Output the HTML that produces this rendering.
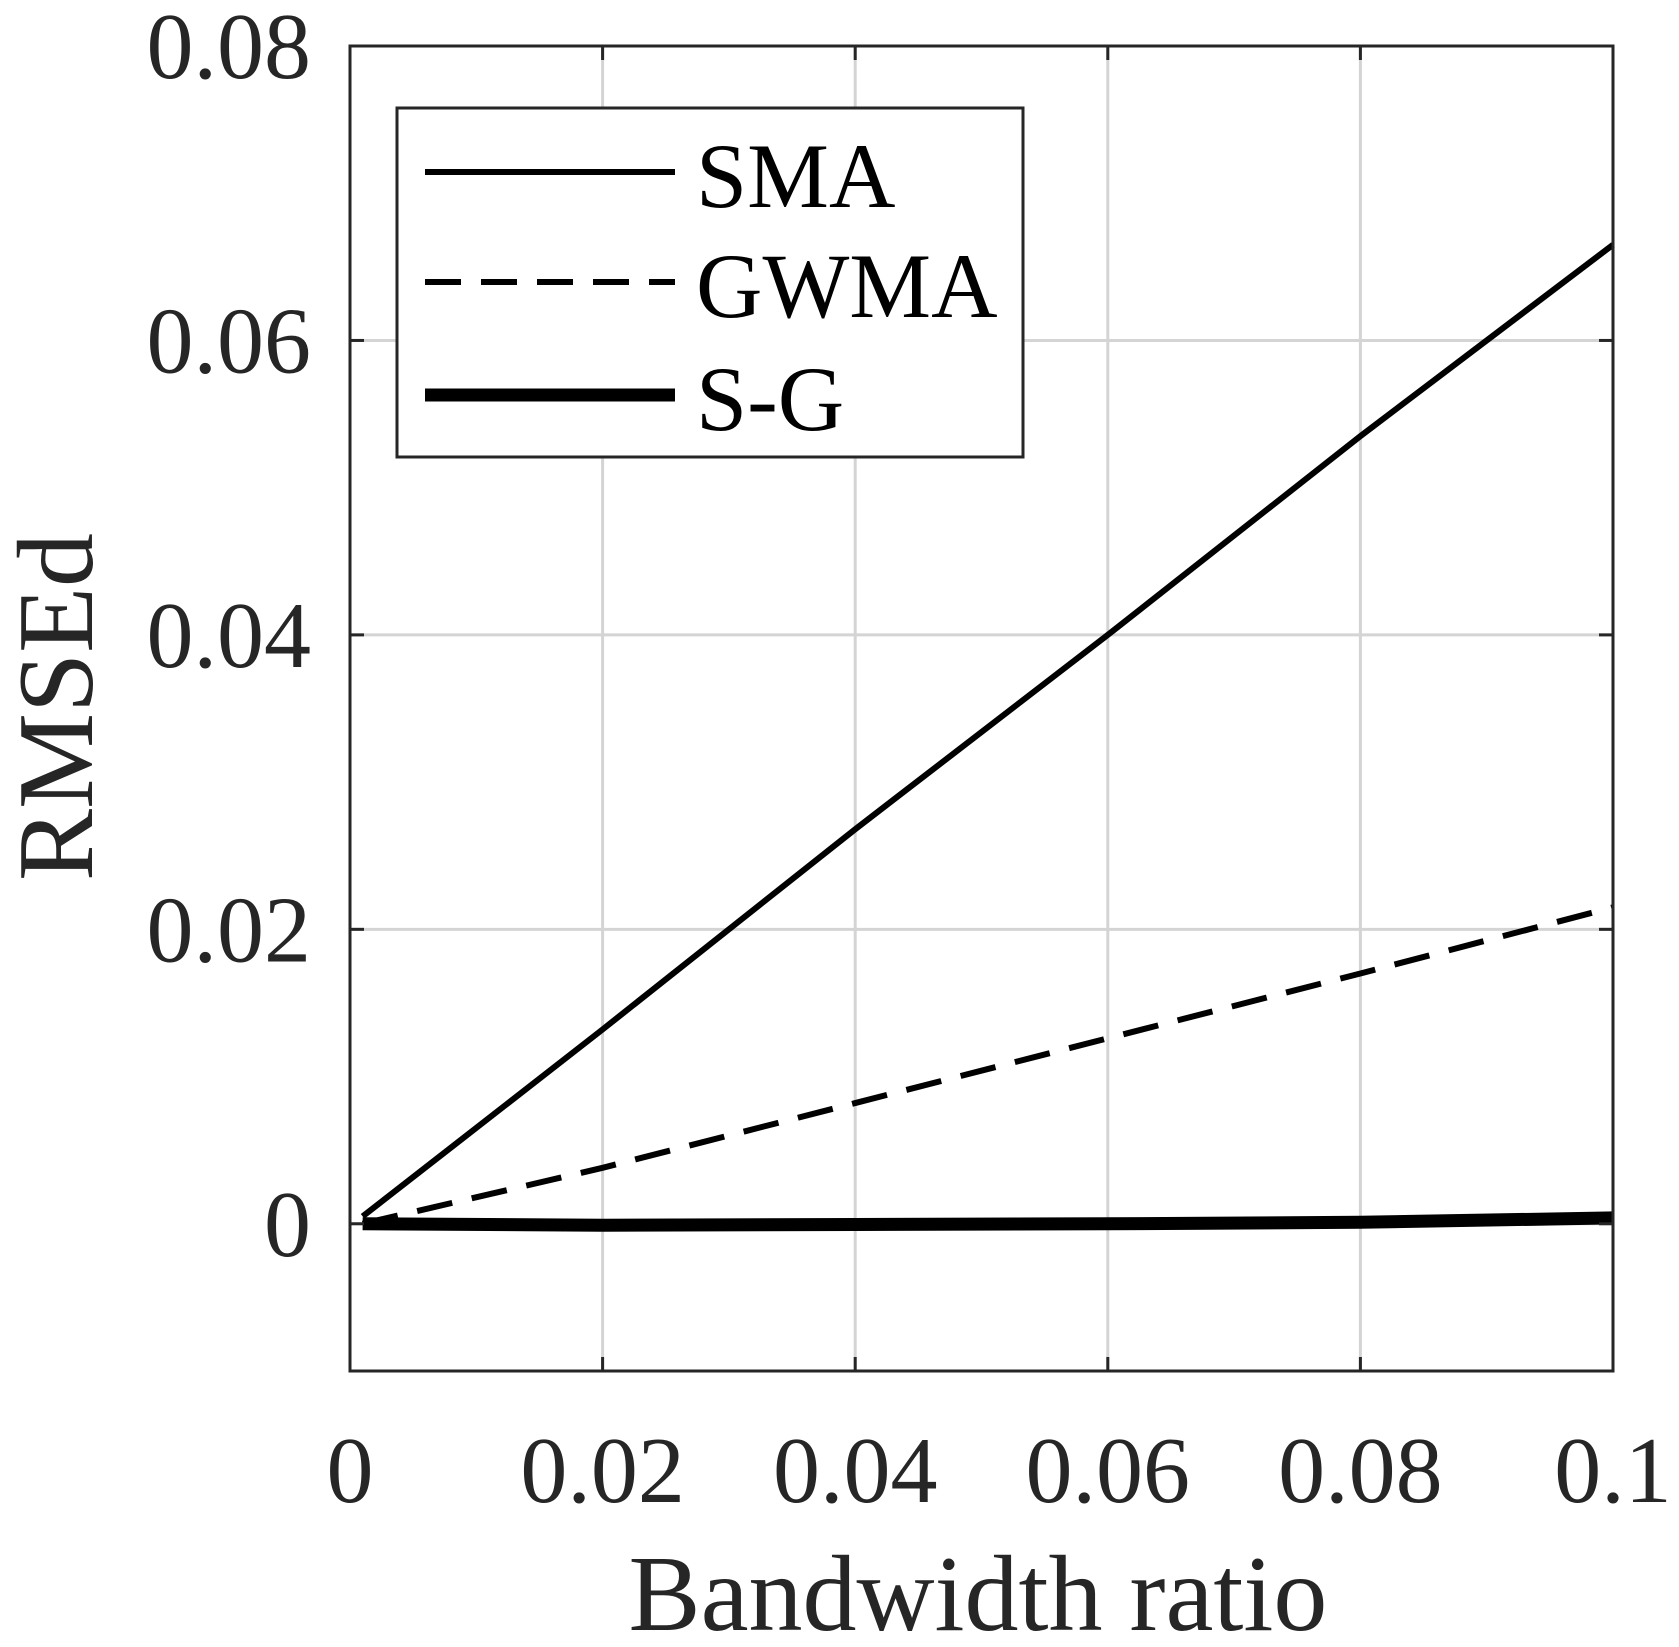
<!DOCTYPE html>
<html><head><meta charset="utf-8"><style>
html,body{margin:0;padding:0;background:#fff;}
svg{display:block;font-family:"Liberation Serif",serif;}
</style></head><body>
<svg id="chart" width="1679" height="1647" viewBox="0 0 1679 1647" xmlns="http://www.w3.org/2000/svg">
<g id="grid"></g>
<g id="series"></g>
<rect x="350" y="46" width="1263" height="1325" fill="none" stroke="#262626" stroke-width="3"/>
<g id="ticks"></g>
<text x="978" y="1630" font-size="108" text-anchor="middle" fill="#262626">Bandwidth ratio</text>
<text transform="translate(92,707) rotate(-90)" font-size="108" text-anchor="middle" fill="#262626">RMSEd</text>
<g>
<rect x="397" y="108" width="626" height="349" fill="#fff" stroke="#262626" stroke-width="3"/>
<line x1="425" y1="172" x2="675" y2="172" stroke="#000" stroke-width="6"/>
<text x="696" y="207" font-size="92" fill="#000">SMA</text>
<line x1="425" y1="282" x2="675" y2="282" stroke="#000" stroke-width="6" stroke-dasharray="36,20"/>
<text x="696" y="317" font-size="92" fill="#000">GWMA</text>
<line x1="425" y1="395" x2="675" y2="395" stroke="#000" stroke-width="13"/>
<text x="696" y="430" font-size="92" fill="#000">S-G</text>
</g>
</svg>
<script>
const xs=[0.001,0.02,0.04,0.06,0.08,0.1];
const smaVals=[0.0005,0.0132,0.0268,0.0400,0.0535,0.0665];
const gwmaVals=[0.0,0.0038,0.0082,0.0126,0.0170,0.0215];
const sgVals=[0.0,-0.0001,-0.00005,0.0,0.0001,0.0004];
const xTicks=[0,0.02,0.04,0.06,0.08,0.1];
const xTickLabels=["0","0.02","0.04","0.06","0.08","0.1"];
const yTicks=[0,0.02,0.04,0.06,0.08];
const yTickLabels=["0","0.02","0.04","0.06","0.08"];
const NS="http://www.w3.org/2000/svg";
const L=350,R=1613,T=46,B=1371;
function sx(v){return L+(v-0)/(0.1-0)*(R-L);}
function sy(v){return B-(v-(-0.01))/(0.08-(-0.01))*(B-T);}
const grid=document.getElementById('grid'),ticks=document.getElementById('ticks'),ser=document.getElementById('series');
function mk(tag,attrs,parent){const e=document.createElementNS(NS,tag);for(const k in attrs)e.setAttribute(k,attrs[k]);parent.appendChild(e);return e;}
xTicks.forEach((v,i)=>{
 const g=mk('line',{x1:sx(v),x2:sx(v),y1:T,y2:B,stroke:'#d4d4d4','stroke-width':3},grid);
 
 
 const t1=mk('line',{x1:sx(v),x2:sx(v),y1:B,y2:B-14,stroke:'#262626','stroke-width':3},ticks);
 
 
 const t2=mk('line',{x1:sx(v),x2:sx(v),y1:T,y2:T+14,stroke:'#262626','stroke-width':3},ticks);
 
 
 const tx=mk('text',{x:sx(v),y:1502,'font-size':94,'text-anchor':'middle',fill:'#262626'},ticks);
 tx.textContent=xTickLabels[i];
 
 
});
yTicks.forEach((v,i)=>{
 const g=mk('line',{x1:L,x2:R,y1:sy(v),y2:sy(v),stroke:'#d4d4d4','stroke-width':3},grid);
 
 
 const t1=mk('line',{x1:L,x2:L+14,y1:sy(v),y2:sy(v),stroke:'#262626','stroke-width':3},ticks);
 
 
 const t2=mk('line',{x1:R,x2:R-14,y1:sy(v),y2:sy(v),stroke:'#262626','stroke-width':3},ticks);
 
 
 const tx=mk('text',{x:311,y:sy(v)+32,'font-size':94,'text-anchor':'end',fill:'#262626'},ticks);
 tx.textContent=yTickLabels[i];
 
 
});
function pts(vals){return xs.map((x,i)=>sx(x)+','+sy(vals[i])).join(' ');}
const s1=mk('polyline',{points:pts(smaVals),fill:'none',stroke:'#000','stroke-width':6},ser);


const s2=mk('polyline',{points:pts(gwmaVals),fill:'none',stroke:'#000','stroke-width':6,'stroke-dasharray':'36,20'},ser);


const s3=mk('polyline',{points:pts(sgVals),fill:'none',stroke:'#000','stroke-width':13},ser);


</script>
</body></html>
